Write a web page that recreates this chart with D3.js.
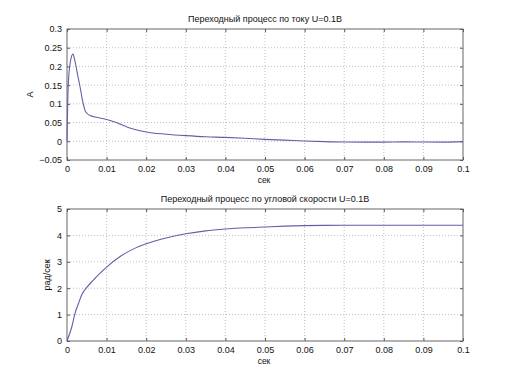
<!DOCTYPE html>
<html><head><meta charset="utf-8">
<script src="https://cdn.jsdelivr.net/npm/d3@7"></script>
<style>body{margin:0;background:#fff}svg{display:block}text{font-family:"Liberation Sans",Arial,sans-serif;fill:#111}</style>
</head><body><svg id="c" width="511" height="383"></svg>
<script>
const tCurrent = [0,0.0003,0.0008,0.0015,0.002,0.0026,0.0033,0.0039,0.0047,0.006,0.0075,0.0093,0.0119,0.0136,0.015,0.0167,0.02,0.025,0.03,0.035,0.04,0.045,0.05,0.055,0.06,0.065,0.07,0.075,0.08,0.085,0.09,0.095,0.1];
const current  = [0,0.146,0.209,0.233,0.215,0.182,0.145,0.110,0.079,0.068,0.064,0.060,0.052,0.045,0.039,0.033,0.025,0.019,0.015,0.012,0.0105,0.008,0.005,0.003,0.0008,-0.001,-0.002,-0.0022,-0.0022,-0.0015,-0.002,-0.0022,-0.001];
const tSpeed = [0,0.0012,0.002,0.0029,0.0037,0.005,0.0066,0.0083,0.01,0.0136,0.0167,0.02,0.025,0.03,0.035,0.04,0.045,0.05,0.055,0.06,0.065,0.07,0.08,0.09,0.1];
const speed  = [0,0.53,1.04,1.42,1.74,2.03,2.30,2.56,2.80,3.22,3.48,3.68,3.90,4.06,4.17,4.24,4.29,4.32,4.35,4.37,4.38,4.385,4.385,4.385,4.385];
const xTicks = [0,0.01,0.02,0.03,0.04,0.05,0.06,0.07,0.08,0.09,0.1];
const yTicksCurrent = [-0.05,0,0.05,0.1,0.15,0.2,0.25,0.3];
const yTicksSpeed = [0,1,2,3,4,5];
const titles = ["Переходный процесс по току U=0.1В","Переходный процесс по угловой скорости U=0.1В"];
const yLabels = ["А","рад/сек"];
const xLabel = "сек";

const svg = d3.select("#c");
const L = 67, R = 463;
const panels = [
  {top:29, bottom:160, t:tCurrent, v:current, yd:[-0.05,0.3], yt:yTicksCurrent, title:titles[0], yl:yLabels[0], ylx:33},
  {top:209, bottom:341, t:tSpeed, v:speed, yd:[0,5], yt:yTicksSpeed, title:titles[1], yl:yLabels[1], ylx:50}
];
const fmt = d => d3.format("")(+d.toFixed(3));
panels.forEach(p => {
  const x = d3.scaleLinear().domain([0,0.1]).range([L,R]);
  const y = d3.scaleLinear().domain(p.yd).range([p.bottom,p.top]);
  const g = svg.append("g");
  // grid
  g.selectAll(".gx").data(xTicks.slice(1,-1)).join("line")
    .attr("x1",d=>x(d)).attr("x2",d=>x(d)).attr("y1",p.top).attr("y2",p.bottom)
    .attr("stroke","#b0b0b0").attr("stroke-width",0.8).attr("stroke-dasharray","1,2");
  g.selectAll(".gy").data(p.yt.slice(1,-1)).join("line")
    .attr("y1",d=>y(d)).attr("y2",d=>y(d)).attr("x1",L).attr("x2",R)
    .attr("stroke","#b0b0b0").attr("stroke-width",0.8).attr("stroke-dasharray","1,2");
  // axes
  const ax = d3.axisBottom(x).tickValues(xTicks).tickSize(-3).tickPadding(6).tickFormat(fmt);
  const ay = d3.axisLeft(y).tickValues(p.yt).tickSize(-3).tickPadding(5).tickFormat(fmt);
  const axT = d3.axisTop(x).tickValues(xTicks).tickSize(-3).tickFormat("");
  const ayR = d3.axisRight(y).tickValues(p.yt).tickSize(-3).tickFormat("");
  [[ax,`translate(0,${p.bottom})`],[ay,`translate(${L},0)`],[axT,`translate(0,${p.top})`],[ayR,`translate(${R},0)`]].forEach(([a,tr])=>{
    const gg = g.append("g").attr("transform",tr).call(a);
    gg.select(".domain").remove();
    gg.selectAll("line").attr("stroke","#555");
    gg.selectAll("text").style("font-size","9px").attr("fill","#111");
  });
  g.append("rect").attr("x",L).attr("y",p.top).attr("width",R-L).attr("height",p.bottom-p.top)
    .attr("fill","none").attr("stroke","#666").attr("stroke-width",1);
  // line
  g.append("path").datum(p.t.map((t,i)=>[t,p.v[i]]))
    .attr("d",d3.line().x(d=>x(d[0])).y(d=>y(d[1])).curve(d3.curveMonotoneX))
    .attr("fill","none").attr("stroke","#6060a8").attr("stroke-width",1.1);
  // labels
  g.append("text").attr("x",(L+R)/2).attr("y",p.top-7).attr("text-anchor","middle").style("font-size","9px").text(p.title);
  g.append("text").attr("x",(L+R)/2 - 1).attr("y",p.bottom+23).attr("text-anchor","middle").style("font-size","8.5px").text(xLabel);
  g.append("text").attr("transform",`translate(${p.ylx},${(p.top+p.bottom)/2}) rotate(-90)`).attr("text-anchor","middle").style("font-size","9px").text(p.yl);
});
</script></body></html>
